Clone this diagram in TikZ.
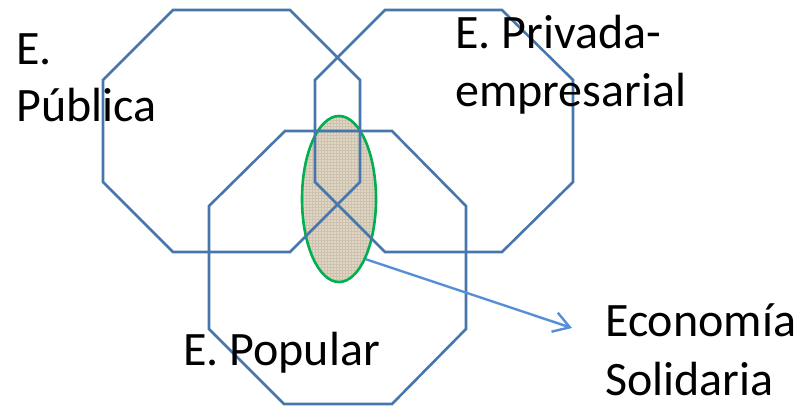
\documentclass[tikz,border=0pt]{standalone}
\usepackage{fontspec}
\setmainfont{Carlito}
\usetikzlibrary{shapes.geometric,arrows.meta,patterns}
\definecolor{octblue}{RGB}{70,118,172}
\definecolor{elgreen}{RGB}{0,176,80}
\definecolor{arrblue}{RGB}{85,142,213}
\definecolor{burlap}{RGB}{224,214,196}
\definecolor{burlapline}{RGB}{205,194,176}
\tikzset{
  octa/.style={draw=octblue, line width=2.6pt, line join=miter},
  lbl/.style={anchor=base west, inner sep=0pt, font=\fontsize{48}{58}\selectfont},
  solid eco/.style={ellipse, draw=elgreen, line width=2.6pt, inner sep=0pt,
    minimum width=74pt, minimum height=166pt,
    preaction={fill=burlap}, pattern=grid, pattern color=burlapline},
  conn/.style={draw=arrblue, line width=2.4pt, -{Straight Barb[length=16pt,width=20pt]}}
}
\begin{document}
\begin{tikzpicture}[x=1pt,y=-1pt]
\useasboundingbox (0,0) rectangle (808,411);
% Economia solidaria ellipse
\node[solid eco] (es) at (339,199) {};
% octagons
\draw[octa] (173,10) -- (290,10) -- (360,80) -- (360,182) -- (290,252) -- (173,252) -- (103,182) -- (103,80) -- cycle;
\draw[octa] (385,10) -- (502,10) -- (573,80) -- (573,182) -- (502,252) -- (385,252) -- (315,182) -- (315,80) -- cycle;
\draw[octa] (285,131) -- (392,131) -- (466,206) -- (466,329) -- (392,404) -- (284,404) -- (209,329) -- (209,206) -- cycle;
% labels
\node[lbl] (pub1) at (16,65) {E.};
\node[lbl] (pub2) at (16,122) {Pública};
\node[lbl] (pri1) at (455,49) {E. Privada-};
\node[lbl] (pri2) at (455,107) {empresarial};
\node[lbl] (pop) at (183,365) {E. Popular};
\node[lbl] (eco1) at (605,337) {Economía};
\node[lbl] (eco2) at (605,395) {Solidaria};
% connector
\coordinate (tip) at (572,328);
\draw[conn] (es.-66) -- (tip);
\end{tikzpicture}
\end{document}
